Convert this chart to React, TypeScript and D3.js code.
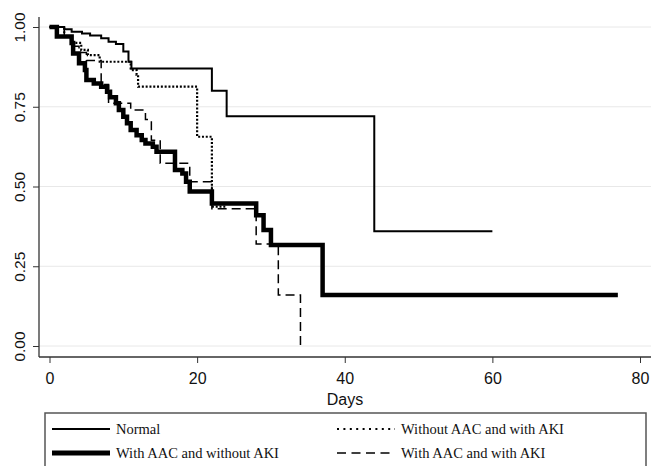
import React, { useEffect, useRef } from "react";
import * as d3 from "d3";

// Kaplan-Meier steps: [day, survival after the event]
const normalCurve: [number, number][] = [
  [0, 1], [2, 0.993], [3, 0.985], [4.4, 0.98], [5.5, 0.973], [7, 0.965],
  [8, 0.954], [9, 0.947], [10, 0.923], [10.7, 0.891], [11.1, 0.87],
  [22, 0.8], [24, 0.72], [44, 0.36], [60, 0.36],
];
const aacNoAkiCurve: [number, number][] = [
  [0, 1], [1, 0.97], [3, 0.95], [3.2, 0.917], [4, 0.886], [4.8, 0.865], [5, 0.834],
  [6, 0.823], [7, 0.813], [7.8, 0.797], [8.2, 0.78], [9, 0.761], [9.4, 0.74],
  [10, 0.719], [10.5, 0.698], [11, 0.677], [11.8, 0.661], [12.5, 0.646],
  [13, 0.635], [14, 0.625], [14.5, 0.609], [17, 0.552], [18, 0.541],
  [18.5, 0.515], [19, 0.484], [22, 0.447], [28, 0.41], [29, 0.364],
  [30, 0.317], [37, 0.16], [77, 0.16],
];
const noAacAkiCurve: [number, number][] = [
  [0, 1], [2, 0.97], [3, 0.95], [4.3, 0.928], [5.2, 0.912], [6.8, 0.891],
  [11, 0.865], [11.8, 0.85], [12, 0.813], [20, 0.656], [22, 0.437], [24, 0.437],
];
const aacAkiCurve: [number, number][] = [
  [0, 1], [2, 0.97], [3, 0.94], [4, 0.92], [5, 0.895], [7, 0.82], [8, 0.761],
  [11, 0.74], [13, 0.71], [13.8, 0.645], [15, 0.573], [19, 0.515], [22, 0.43],
  [28, 0.32], [31, 0.16], [34, 0],
];

const xTicks = [0, 20, 40, 60, 80];
const yTicks = [0, 0.25, 0.5, 0.75, 1];
const legendLabels = [
  "Normal",
  "Without AAC and with AKI",
  "With AAC and without AKI",
  "With AAC and with AKI",
];

const W = 651;
const H = 466;

const App = () => {
  const ref = useRef<SVGSVGElement>(null);

  useEffect(() => {
    const svg = d3.select(ref.current);
    svg.selectAll("*").remove();

    const x = d3.scaleLinear().domain([0, 80]).range([49.5, 640]);
    const y = d3.scaleLinear().domain([0, 1]).range([346, 27]);
    const left = 39,
      bottom = 357;

    // gridlines
    svg
      .append("g")
      .selectAll("line")
      .data(yTicks)
      .enter()
      .append("line")
      .attr("x1", left)
      .attr("x2", W)
      .attr("y1", (d) => y(d))
      .attr("y2", (d) => y(d))
      .attr("stroke", "#e8e8e8")
      .attr("stroke-width", 1);

    // axes
    const font = "'Liberation Sans', Arial, sans-serif";
    const xAxis = svg
      .append("g")
      .attr("transform", `translate(0, ${bottom})`)
      .call(d3.axisBottom(x).tickValues(xTicks).tickSize(6).tickPadding(10).tickFormat(d3.format("d")));
    xAxis.select(".domain").remove();
    xAxis.selectAll("line").attr("stroke", "#333");
    xAxis.selectAll("text").attr("font-family", font).attr("font-size", 16).attr("fill", "#111");

    const yAxis = svg
      .append("g")
      .attr("transform", `translate(${left}, 0)`)
      .call(d3.axisLeft(y).tickValues(yTicks).tickSize(6).tickFormat(d3.format(".2f")));
    yAxis.select(".domain").remove();
    yAxis.selectAll("line").attr("stroke", "#333");
    yAxis
      .selectAll("text")
      .attr("font-family", font)
      .attr("font-size", 15.5)
      .attr("fill", "#111")
      .attr("text-anchor", "middle")
      .attr("x", 0)
      .attr("dy", 0)
      .attr("transform", "translate(-14, 0) rotate(-90)");

    svg.append("line").attr("x1", left).attr("x2", left).attr("y1", 17).attr("y2", bottom).attr("stroke", "#333").attr("stroke-width", 1.3);
    svg.append("line").attr("x1", left).attr("x2", W).attr("y1", bottom).attr("y2", bottom).attr("stroke", "#333").attr("stroke-width", 1.3);

    svg
      .append("text")
      .attr("x", 345)
      .attr("y", 405)
      .attr("text-anchor", "middle")
      .attr("font-family", font)
      .attr("font-size", 16)
      .attr("fill", "#111")
      .text("Days");

    // survival curves
    const line = d3
      .line<[number, number]>()
      .x((d) => x(d[0]))
      .y((d) => y(d[1]))
      .curve(d3.curveStepAfter);

    const series = [
      { data: aacAkiCurve, width: 1.5, dash: "9 5" },
      { data: noAacAkiCurve, width: 2.2, dash: "2 1.8" },
      { data: normalCurve, width: 2, dash: null },
      { data: aacNoAkiCurve, width: 4.5, dash: null },
    ];
    svg
      .append("g")
      .selectAll("path")
      .data(series)
      .enter()
      .append("path")
      .attr("d", (d) => line(d.data))
      .attr("fill", "none")
      .attr("stroke", "#000")
      .attr("stroke-width", (d) => d.width)
      .attr("stroke-dasharray", (d) => d.dash);

    // legend
    svg
      .append("rect")
      .attr("x", 45)
      .attr("y", 413)
      .attr("width", 601)
      .attr("height", 70)
      .attr("fill", "none")
      .attr("stroke", "#555")
      .attr("stroke-width", 1.5);

    const legendItems = [
      { label: legendLabels[0], lx: 52, ty: 429, width: 2, dash: null },
      { label: legendLabels[1], lx: 337, ty: 429, width: 2, dash: "2 4.4" },
      { label: legendLabels[2], lx: 52, ty: 453, width: 5, dash: null },
      { label: legendLabels[3], lx: 337, ty: 453, width: 1.5, dash: "9 5.5" },
    ];
    const lg = svg.append("g").selectAll("g").data(legendItems).enter().append("g");
    lg.append("line")
      .attr("x1", (d) => d.lx)
      .attr("x2", (d) => d.lx + 58)
      .attr("y1", (d) => d.ty)
      .attr("y2", (d) => d.ty)
      .attr("stroke", "#000")
      .attr("stroke-width", (d) => d.width)
      .attr("stroke-dasharray", (d) => d.dash);
    lg.append("text")
      .attr("x", (d) => d.lx + 64)
      .attr("y", (d) => d.ty + 5)
      .attr("font-family", "'Liberation Serif', 'Times New Roman', serif")
      .attr("font-size", 14.5)
      .attr("fill", "#111")
      .text((d) => d.label);
  }, []);

  return (
    <svg
      ref={ref}
      width={W}
      height={H}
      style={{ position: "absolute", left: 0, top: 0, background: "#fff" }}
    />
  );
};

export default App;
